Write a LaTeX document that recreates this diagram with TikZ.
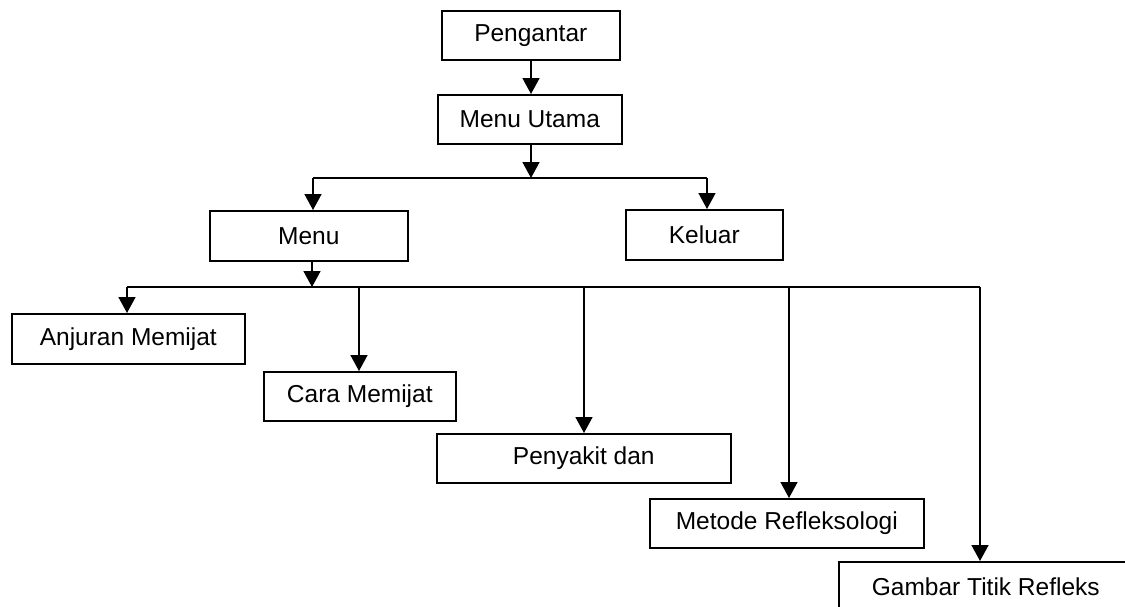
\documentclass[tikz,border=0pt]{standalone}
\usepackage{fontspec}
\setmainfont{Liberation Sans}
\usetikzlibrary{arrows.meta}
\begin{document}
\begin{tikzpicture}[x=1pt,y=-1pt,
  box/.style={draw,line width=1.6pt,anchor=north west,inner sep=0pt,
    font=\fontsize{24.5}{28}\selectfont},
  link/.style={line width=1.6pt},
  arr/.style={line width=1.6pt,-{Triangle[width=17pt,length=16pt]}}]
\useasboundingbox (0,0) rectangle (1125,606);
\clip (0,0) rectangle (1125,606);
\node[box,minimum width=178pt,minimum height=49pt] (peng) at (441,10) {Pengantar};
\node[box,minimum width=184pt,minimum height=49pt] (utama) at (437,94) {Menu Utama};
\node[box,minimum width=198pt,minimum height=50pt] (menu) at (209,210) {Menu};
\node[box,minimum width=157pt,minimum height=50pt] (keluar) at (625,209) {Keluar};
\node[box,minimum width=233pt,minimum height=50pt] (anjuran) at (11,313) {Anjuran Memijat};
\node[box,minimum width=192pt,minimum height=49pt] (cara) at (263,371) {Cara Memijat};
\node[box,minimum width=294pt,minimum height=49pt] (penyakit) at (436,433) {Penyakit dan};
\node[box,minimum width=274pt,minimum height=49pt] (metode) at (649,498) {Metode Refleksologi};
\node[box,minimum width=294pt,minimum height=50pt] (gambar) at (838,561) {Gambar Titik Refleks};
% first bus
\coordinate (j1) at (531,178);
\coordinate (b1l) at (313,178);
\coordinate (b1r) at (707,178);
\draw[arr] (531,59) -- (531,94);
\draw[arr] (531,143) -- (j1);
\draw[link] (b1l) -- (b1r);
\draw[arr] (b1l) -- (b1l |- menu.north);
\draw[arr] (b1r) -- (b1r |- keluar.north);
% second bus
\coordinate (j2) at (312,287);
\coordinate (b2a) at (127,287);
\coordinate (b2b) at (359,287);
\coordinate (b2c) at (584,287);
\coordinate (b2d) at (789,287);
\coordinate (b2e) at (980,287);
\draw[arr] (312,260) -- (j2);
\draw[link] (b2a) -- (b2e);
\draw[arr] (b2a) -- (b2a |- anjuran.north);
\draw[arr] (b2b) -- (b2b |- cara.north);
\draw[arr] (b2c) -- (b2c |- penyakit.north);
\draw[arr] (b2d) -- (b2d |- metode.north);
\draw[arr] (b2e) -- (b2e |- gambar.north);
\end{tikzpicture}
\end{document}
